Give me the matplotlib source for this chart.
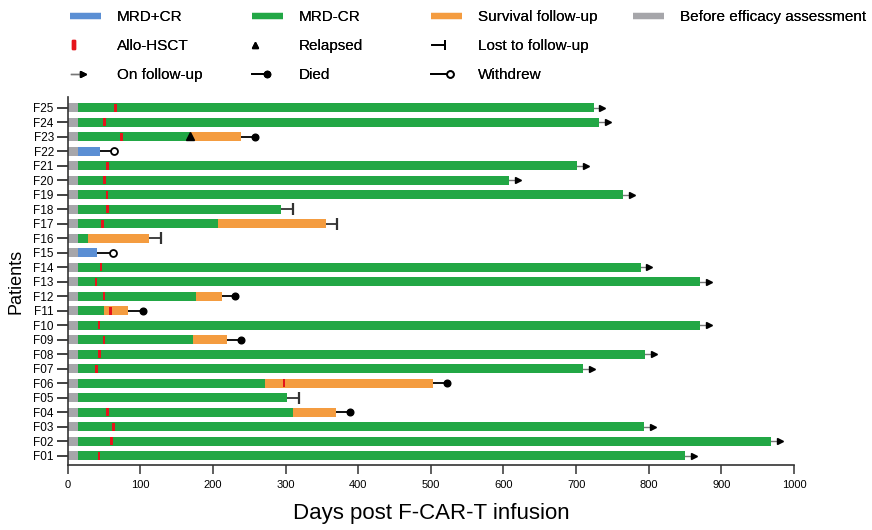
import numpy as np
import matplotlib
matplotlib.use("Agg")
import matplotlib.pyplot as plt
from matplotlib.lines import Line2D
from matplotlib.patches import Rectangle

plt.rcParams['font.family'] = ['Liberation Sans', 'DejaVu Sans']

# Data
patients = ['F01', 'F02', 'F03', 'F04', 'F05', 'F06', 'F07', 'F08', 'F09', 'F10',
            'F11', 'F12', 'F13', 'F14', 'F15', 'F16', 'F17', 'F18', 'F19', 'F20',
            'F21', 'F22', 'F23', 'F24', 'F25']
before_end = [14] * 25
response = ['MRD-CR'] * 14 + ['MRD+CR'] + ['MRD-CR'] * 6 + ['MRD+CR'] + ['MRD-CR'] * 3
response_end = [850, 969, 794, 310, 302, 272, 710, 795, 173, 871,
                50, 177, 871, 789, 40, 28, 207, 294, 765, 608,
                701, 44, 169, 732, 724]
survival_end = [np.nan, np.nan, np.nan, 369, np.nan, 503, np.nan, np.nan, 219, np.nan,
                83, 213, np.nan, np.nan, np.nan, 112, 355, np.nan, np.nan, np.nan,
                np.nan, np.nan, 239, np.nan, np.nan]
hsct_day = [43, 60, 63, 55, np.nan, 298, 40, 44, 50, 43,
            59, 50, 39, 46, np.nan, np.nan, 48, 55, 54, 51,
            55, np.nan, 74, 51, 66]
relapse_day = [np.nan] * 22 + [169, np.nan, np.nan]
outcome = ['on', 'on', 'on', 'died', 'lost', 'died', 'on', 'on', 'died', 'on',
           'died', 'died', 'on', 'on', 'withdrew', 'lost', 'lost', 'lost', 'on', 'on',
           'on', 'withdrew', 'died', 'on', 'on']
outcome_day = [865, 984, 809, 388, 319, 522, 725, 810, 239, 886,
               103, 231, 886, 804, 62, 128, 371, 310, 780, 623,
               716, 64, 258, 747, 739]

blue = '#5b8fd4'
green = '#22a745'
orange = '#f49c40'
gray = '#a6a6aa'
red = '#e5141b'

fig = plt.figure(figsize=(8.72, 5.3), dpi=100)
ax = fig.add_axes([67.7 / 872, 65 / 530, (794 - 67.7) / 872, 368 / 530])

y = np.arange(len(patients))
h = 0.64
resp_colors = [blue if r == 'MRD+CR' else green for r in response]
resp_end = np.array(response_end, dtype=float)
surv_end = np.array(survival_end, dtype=float)
gray_end = np.array(before_end, dtype=float)

ax.barh(y, gray_end, height=h, color=gray, zorder=2)
ax.barh(y, resp_end - gray_end, left=gray_end, height=h, color=resp_colors, zorder=2)
has_surv = ~np.isnan(surv_end)
ax.barh(y[has_surv], surv_end[has_surv] - resp_end[has_surv], left=resp_end[has_surv],
        height=h, color=orange, zorder=2)

hs = np.array(hsct_day, dtype=float)
ok = ~np.isnan(hs)
ax.barh(y[ok], 3.5, left=hs[ok] - 1.75, height=h * 0.85, color=red, zorder=3)

rl = np.array(relapse_day, dtype=float)
ok = ~np.isnan(rl)
ax.plot(rl[ok], y[ok] + 0.05, ls='none', marker='^', ms=5.5, color='black', zorder=4)

bar_end = np.where(has_surv, surv_end, resp_end)
for i in range(len(patients)):
    kind = outcome[i]
    x0, x1 = bar_end[i], outcome_day[i]
    if kind == 'on':
        ax.plot([x0, x1 - 3], [y[i], y[i]], color='#777777', lw=1, zorder=1)
        ax.plot(x1 - 3, y[i], ls='none', marker='>', ms=4.2, color='black', zorder=4)
    elif kind == 'died':
        ax.plot([x0, x1], [y[i], y[i]], color='black', lw=1.3, zorder=1)
        ax.plot(x1, y[i], ls='none', marker='o', ms=4.8, color='black', zorder=4)
    elif kind == 'lost':
        ax.plot([x0, x1], [y[i], y[i]], color='#333333', lw=1.3, zorder=1)
        ax.plot(x1, y[i], ls='none', marker='|', ms=8, mew=1.6, color='#333333', zorder=4)
    elif kind == 'withdrew':
        ax.plot([x0, x1], [y[i], y[i]], color='black', lw=1.3, zorder=1)
        ax.plot(x1, y[i], ls='none', marker='o', ms=5, mfc='white', mec='black',
                mew=1.3, zorder=4)

ax.set_xlim(0, 1000)
ax.set_ylim(-0.64, 24.74)
ax.set_xticks(np.arange(0, 1001, 100))
ax.set_yticks(y)
ax.set_yticklabels(patients)
for s in ['top', 'right']:
    ax.spines[s].set_visible(False)
for s in ['left', 'bottom']:
    ax.spines[s].set_color('#333333')
    ax.spines[s].set_linewidth(1.2)
ax.tick_params(axis='y', length=8, width=1.3, color='#333333', labelsize=8.5, pad=2)
ax.tick_params(axis='x', length=6.5, width=1.1, color='#333333', labelsize=8, pad=4)
ax.set_xlabel('Days post F-CAR-T infusion', fontsize=16, labelpad=10)
ax.set_ylabel('Patients', fontsize=13, labelpad=6)


# legend handlers for the event symbols
class SymbolHandler:
    def __init__(self, kind):
        self.kind = kind

    def legend_artist(self, legend, orig_handle, fontsize, handlebox):
        x0, y0 = -handlebox.xdescent, -handlebox.ydescent
        ym = y0 + handlebox.height / 2
        arts = []
        if self.kind == 'hsct':
            arts.append(Rectangle((x0 + 1.5, ym - 3), 1.8, 6, color=red))
        elif self.kind == 'relapse':
            arts.append(Line2D([x0 + 2.5], [ym], ls='none', marker='^', ms=5, color='black'))
        elif self.kind == 'on':
            arts.append(Line2D([x0 + 0.7, x0 + 8], [ym, ym], color='#777777', lw=1))
            arts.append(Line2D([x0 + 9], [ym], ls='none', marker='>', ms=4.2, color='black'))
        elif self.kind == 'died':
            arts.append(Line2D([x0, x0 + 11], [ym, ym], color='black', lw=1.3))
            arts.append(Line2D([x0 + 11], [ym], ls='none', marker='o', ms=4.5, color='black'))
        elif self.kind == 'lost':
            arts.append(Line2D([x0 + 0.7, x0 + 10], [ym, ym], color='black', lw=1.3))
            arts.append(Line2D([x0 + 10], [ym], ls='none', marker='|', ms=6.5, mew=1.4, color='black'))
        elif self.kind == 'withdrew':
            arts.append(Line2D([x0, x0 + 12], [ym, ym], color='black', lw=1.3))
            arts.append(Line2D([x0 + 14], [ym], ls='none', marker='o', ms=4.8, mfc='white',
                               mec='black', mew=1.3))
        for a in arts:
            handlebox.add_artist(a)
        return arts[0]


def bar_handle(c):
    return Line2D([], [], color=c, lw=4.5, solid_capstyle='butt')


columns = [
    (70, [('MRD+CR', 'bar', blue), ('Allo-HSCT', 'hsct', None), ('On follow-up', 'on', None)]),
    (252, [('MRD-CR', 'bar', green), ('Relapsed', 'relapse', None), ('Died', 'died', None)]),
    (431, [('Survival follow-up', 'bar', orange), ('Lost to follow-up', 'lost', None),
           ('Withdrew', 'withdrew', None)]),
    (633, [('Before efficacy assessment', 'bar', gray)]),
]
for xpix, entries in columns:
    handles, labels, hmap = [], [], {}
    for lab, kind, col in entries:
        if kind == 'bar':
            hnd = bar_handle(col)
        else:
            hnd = Line2D([], [])
            hmap[hnd] = SymbolHandler(kind)
        handles.append(hnd)
        labels.append(lab)
    leg = fig.legend(handles, labels, handler_map=hmap, loc='upper left',
                     bbox_to_anchor=(xpix / 872, 1 - 10 / 530), frameon=False,
                     fontsize=11, handlelength=2.0, handletextpad=1.05,
                     labelspacing=0.98, borderpad=0, borderaxespad=0)
    fig.add_artist(leg)

fig.savefig('out.png', dpi=100)
